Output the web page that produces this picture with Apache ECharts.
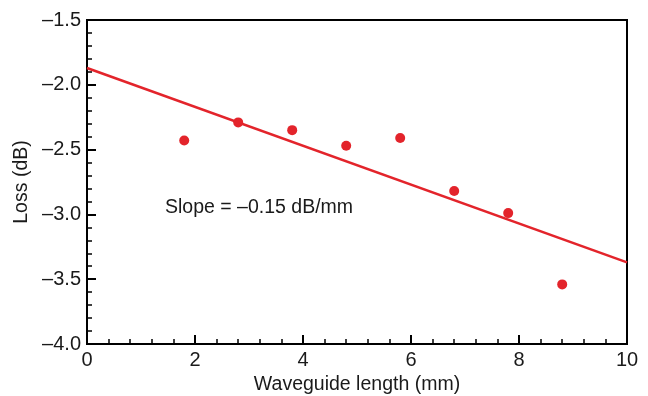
<!DOCTYPE html>
<html>
<head>
<meta charset="utf-8">
<script src="https://cdn.jsdelivr.net/npm/echarts@6/dist/echarts.min.js"></script>
<style>html,body{margin:0;padding:0;background:#fff}#c{width:648px;height:396px}</style>
</head>
<body>
<div id="c"></div>
<script>
var lengths = [1.8, 2.8, 3.8, 4.8, 5.8, 6.8, 7.8, 8.8];
var losses = [-2.43, -2.29, -2.35, -2.47, -2.41, -2.82, -2.99, -3.54];
var fitX = [0, 10];
var fitY = [-1.87, -3.37];
var xTicks = [0, 2, 4, 6, 8, 10];
var yTicks = [-4.0, -3.5, -3.0, -2.5, -2.0, -1.5];
var annotation = 'Slope = \u20130.15 dB/mm';

var red = '#e3242b';
var font = 'Liberation Sans, Arial, Helvetica, sans-serif';
var chart = echarts.init(document.getElementById('c'));
chart.setOption({
  animation: false,
  grid: {left: 87, right: 21, top: 20, bottom: 52, containLabel: false, outerBoundsMode: 'none',
    show: true, borderColor: '#000', borderWidth: 2, backgroundColor: 'transparent'},
  xAxis: {
    type: 'value', min: 0, max: 10, interval: 2,
    name: 'Waveguide length (mm)', nameLocation: 'middle', nameGap: 27,
    nameTextStyle: {fontFamily: font, fontSize: 19.5, color: '#1a1a1a'},
    axisLine: {lineStyle: {color: '#000', width: 2}},
    axisTick: {inside: true, length: 9, lineStyle: {color: '#000', width: 2}},
    minorTick: {show: true, splitNumber: 5, length: 5, lineStyle: {color: '#000', width: 1.5}},
    splitLine: {show: false},
    axisLabel: {fontFamily: font, fontSize: 20, color: '#1a1a1a', margin: 6,
      formatter: function (v) { return xTicks.indexOf(v) >= 0 ? String(v) : ''; }}
  },
  yAxis: {
    type: 'value', min: -4.0, max: -1.5, interval: 0.5,
    name: 'Loss (dB)', nameLocation: 'middle', nameGap: 54,
    nameTextStyle: {fontFamily: font, fontSize: 19.5, color: '#1a1a1a'},
    axisLine: {lineStyle: {color: '#000', width: 2}},
    axisTick: {inside: true, length: 9, lineStyle: {color: '#000', width: 2}},
    minorTick: {show: true, splitNumber: 5, length: 5, lineStyle: {color: '#000', width: 1.5}},
    splitLine: {show: false},
    axisLabel: {fontFamily: font, fontSize: 20, color: '#1a1a1a', margin: 6,
      formatter: function (v) { return (v < 0 ? '\u2013' : '') + Math.abs(v).toFixed(1); }}
  },
  series: [
    {
      type: 'line', data: fitX.map(function (x, i) { return [x, fitY[i]]; }),
      showSymbol: false, lineStyle: {color: red, width: 2.5}, z: 2
    },
    {
      type: 'scatter', data: lengths.map(function (x, i) { return [x, losses[i]]; }),
      symbolSize: 10, itemStyle: {color: red, opacity: 1}, z: 3
    }
  ],
  graphic: [{
    type: 'text', left: 165, top: 198,
    style: {text: annotation, fontFamily: font, fontSize: 19.5, fill: '#1a1a1a'}
  }]
});
</script>
</body>
</html>
